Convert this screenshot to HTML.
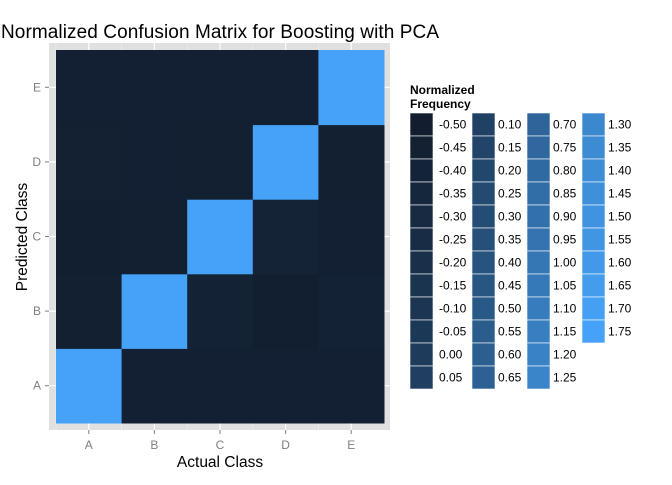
<!DOCTYPE html>
<html><head><meta charset="utf-8"><style>
body{margin:0;background:#fff;width:672px;height:480px;overflow:hidden;font-family:"Liberation Sans",sans-serif}
</style></head><body>
<svg id="c" width="672" height="480" xmlns="http://www.w3.org/2000/svg"></svg>
<script>
const actual=["A","B","C","D","E"];
const predicted=["A","B","C","D","E"];
// values[row=predicted][col=actual]
const values=[
[1.75,-0.46,-0.46,-0.46,-0.46],
[-0.47,1.75,-0.44,-0.49,-0.44],
[-0.49,-0.47,1.75,-0.42,-0.46],
[-0.45,-0.46,-0.47,1.75,-0.47],
[-0.46,-0.46,-0.46,-0.46,1.75]];
const legendLabels=["-0.50","-0.45","-0.40","-0.35","-0.30","-0.25","-0.20","-0.15","-0.10","-0.05","0.00","0.05","0.10","0.15","0.20","0.25","0.30","0.35","0.40","0.45","0.50","0.55","0.60","0.65","0.70","0.75","0.80","0.85","0.90","0.95","1.00","1.05","1.10","1.15","1.20","1.25","1.30","1.35","1.40","1.45","1.50","1.55","1.60","1.65","1.70","1.75"];
const NS="http://www.w3.org/2000/svg",svg=document.getElementById('c');
function mk(t,a,p){const e=document.createElementNS(NS,t);for(const k in a)e.setAttribute(k,a[k]);(p||svg).appendChild(e);return e;}
const lo=[18,30,47],hi=[70,162,246],vmin=-0.5,vmax=1.75;
function col(v){const t=Math.max(0,Math.min(1,(v-vmin)/(vmax-vmin)));return 'rgb('+lo.map((c,i)=>Math.round(c+(hi[i]-c)*t)).join(',')+')';}
const x0=56,x1=384,y0=50,y1=423,cw=(x1-x0)/5,ch=(y1-y0)/5;
const xs=i=>x0+cw*(i+0.5), ys=j=>y1-ch*(j+0.5);
let e=mk('rect',{x:49,y:43,width:341,height:387,fill:'#e0e0e0'});

for(let i=0;i<5;i++){
 mk('line',{x1:xs(i),x2:xs(i),y1:43,y2:430,stroke:'#fff','stroke-width':1.2});
 mk('line',{x1:49,x2:390,y1:ys(i),y2:ys(i),stroke:'#fff','stroke-width':1.2});
 mk('line',{x1:xs(i)-cw/2,x2:xs(i)-cw/2,y1:43,y2:430,stroke:'#f0f0f0','stroke-width':0.6});
}
for(let j=0;j<5;j++)for(let i=0;i<5;i++){
 e=mk('rect',{x:xs(i)-cw/2,y:ys(j)-ch/2,width:cw+0.5,height:ch+0.5,fill:col(values[j][i])});
 
}
for(let i=0;i<5;i++){
 mk('line',{x1:xs(i),x2:xs(i),y1:430,y2:434,stroke:'#7f7f7f'});
 e=mk('text',{x:xs(i),y:449,'text-anchor':'middle','font-size':12,fill:'#7f7f7f'});e.textContent=actual[i];
 
 mk('line',{x1:45,x2:49,y1:ys(i),y2:ys(i),stroke:'#7f7f7f'});
 e=mk('text',{x:41,y:ys(i)+4,'text-anchor':'end','font-size':12,fill:'#7f7f7f'});e.textContent=predicted[i];
 
}
e=mk('text',{x:220,y:467,'text-anchor':'middle','font-size':15.5});e.textContent='Actual Class';

e=mk('text',{x:27,y:237,'text-anchor':'middle','font-size':15.5,transform:'rotate(-90 27 237)'});e.textContent='Predicted Class';

e=mk('text',{x:1,y:38,'font-size':19,textLength:438});e.textContent='Normalized Confusion Matrix for Boosting with PCA';

e=mk('text',{x:410,y:94,'font-size':12,'font-weight':'bold'});e.textContent='Normalized';

e=mk('text',{x:410,y:108,'font-size':12,'font-weight':'bold'});e.textContent='Frequency';

const colX=[410,472,527,582],rh=23;
legendLabels.forEach((l,k)=>{
 const c=Math.floor(k/12),r=k%12,x=colX[c],y=113+r*rh;
 e=mk('rect',{x:x,y:y,width:23,height:rh,fill:col(parseFloat(l)),stroke:'#fff','stroke-width':0.6});
 
 e=mk('text',{x:x+(c==0?29:26),y:y+rh/2+4,'font-size':12});e.textContent=l;
 
});
</script>
</body></html>
